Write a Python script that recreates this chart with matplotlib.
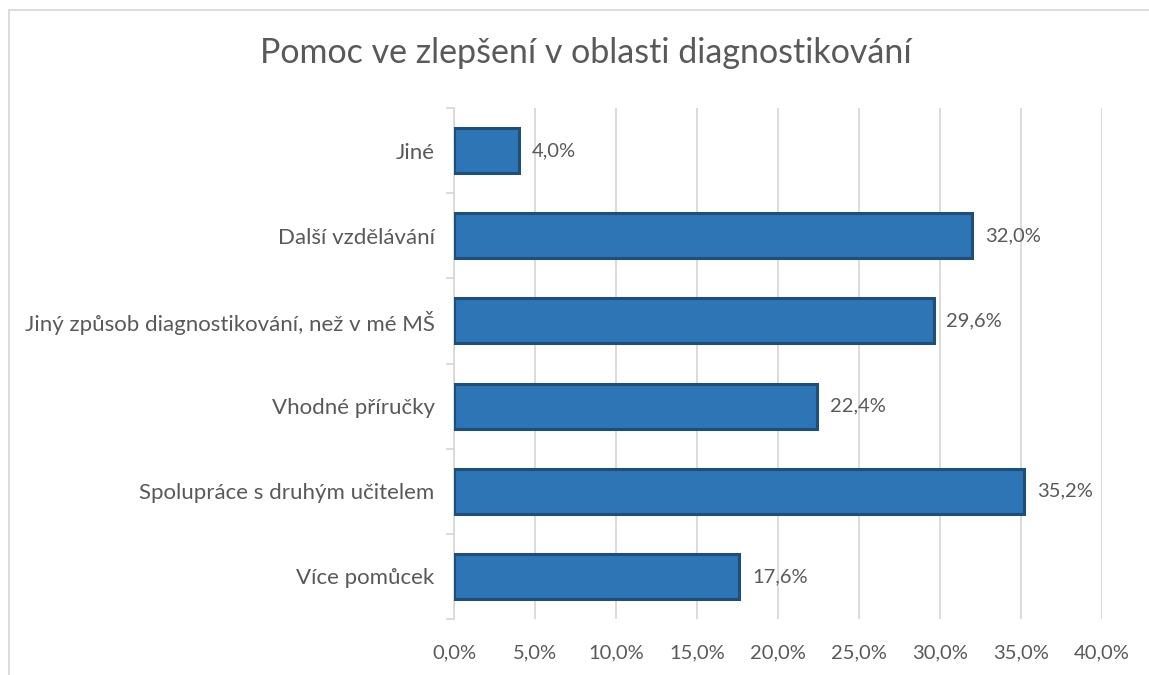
import matplotlib
matplotlib.use("Agg")
import matplotlib.pyplot as plt
from matplotlib.patches import Rectangle
from matplotlib.ticker import FuncFormatter, FixedLocator

# data (bottom to top, as drawn)
categories = ["Více pomůcek", "Spolupráce s druhým učitelem", "Vhodné příručky",
              "Jiný způsob diagnostikování, než v mé MŠ", "Další vzdělávání", "Jiné"]
values = [17.6, 35.2, 22.4, 29.6, 32.0, 4.0]
title = "Pomoc ve zlepšení v oblasti diagnostikování"

text_col = "#595959"
grid_col = "#D9D9D9"
plt.rcParams['font.family'] = ['Lato', 'DejaVu Sans']

W, H = 1149, 675
fig = plt.figure(figsize=(W / 100, H / 100), dpi=100)

# chart border (runs off the right/bottom edge like the screenshot)
fig.patches.append(Rectangle((9 / W, -0.1), 1.2, 1 - 10 / H + 0.1,
                             transform=fig.transFigure, fill=False,
                             edgecolor=grid_col, linewidth=1.3))

ax = fig.add_axes([454 / W, 1 - 619 / H, (1102 - 454) / W, (619 - 108) / H])

ypos = range(len(categories))
bars = ax.barh(ypos, values, height=0.53, color="#2E75B6",
               edgecolor="#1F4E79", linewidth=2.2, zorder=3)

for b, v in zip(bars, values):
    ax.text(v + 0.8, b.get_y() + b.get_height() / 2,
            f"{v:.1f}%".replace(".", ","), va="center", ha="left",
            fontsize=14.5, color=text_col)

ax.set_xlim(0, 40)
ax.set_ylim(-0.5, len(categories) - 0.5)
ax.set_xticks(range(0, 41, 5))
ax.xaxis.set_major_formatter(FuncFormatter(lambda x, p: f"{x:.1f}%".replace(".", ",")))
ax.tick_params(axis="x", length=0, labelsize=14.5, labelcolor=text_col, pad=18)
ax.grid(axis="x", color=grid_col, linewidth=1.3, zorder=0)

# category labels at centres, tick marks at boundaries
ax.set_yticks(list(ypos))
ax.set_yticklabels(categories)
ax.tick_params(axis="y", length=0, labelsize=16, labelcolor=text_col, pad=14)
ax.yaxis.set_minor_locator(FixedLocator([i - 0.5 for i in range(len(categories) + 1)]))
ax.tick_params(axis="y", which="minor", length=6, color=grid_col, width=1.3)

for s in ["top", "right", "bottom"]:
    ax.spines[s].set_visible(False)
ax.spines["left"].set_color(grid_col)
ax.spines["left"].set_linewidth(1.3)

fig.text(586 / W, 1 - 53 / H, title, ha="center", va="center",
         fontsize=24.5, color=text_col)

fig.savefig("out.png", dpi=100)
